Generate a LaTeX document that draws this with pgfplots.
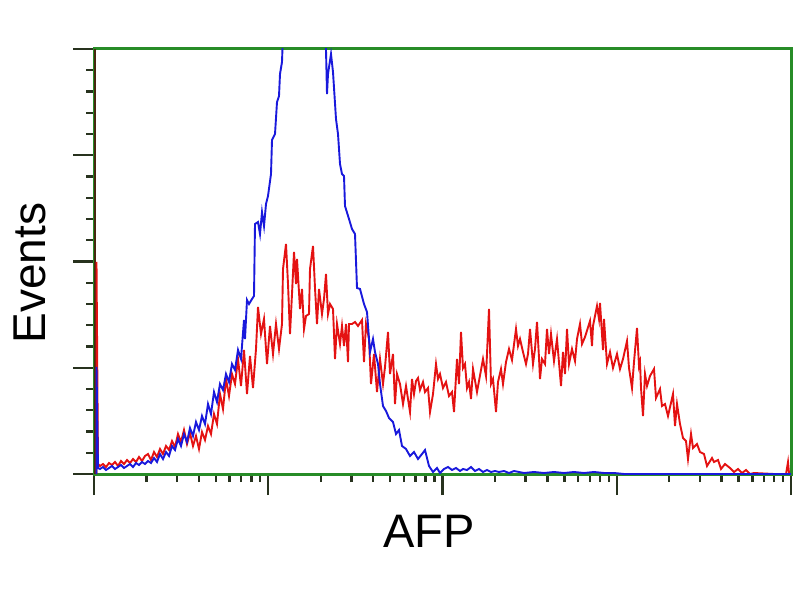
\documentclass[border=0pt]{standalone}
\usepackage{pgfplots}
\pgfplotsset{compat=1.18}
\usepackage{fontspec}
\setmainfont{Liberation Sans}
\definecolor{frame}{RGB}{40,140,40}
\definecolor{tickc}{RGB}{40,50,30}
\definecolor{leftax}{RGB}{70,40,15}
\definecolor{rline}{RGB}{228,18,18}
\definecolor{bline}{RGB}{25,25,220}
\begin{document}
\begin{tikzpicture}
\useasboundingbox (0,0) rectangle (800pt,600pt);
\begin{axis}[
  at={(94pt,126pt)}, anchor=south west,
  scale only axis, width=697pt, height=425pt,
  xmin=0, xmax=697, ymin=0, ymax=425,
  axis line style={draw=frame, line width=3pt},
  xtick={0,174.25,348.5,522.75,697},
  minor xtick={52.45,83.13,104.91,121.80,135.59,147.26,157.36,166.28,
    226.70,257.38,279.16,296.05,309.84,321.51,331.61,340.53,
    400.95,431.63,453.41,470.30,484.09,495.76,505.86,514.78,
    575.20,605.88,627.66,644.55,658.34,670.01,680.11,689.03},
  ytick={0,106.25,212.5,318.75,425},
  minor y tick num=4,
  xticklabels={}, yticklabels={},
  xtick pos=bottom, ytick pos=left,
  tick align=outside,
  major tick length=21pt, minor tick length=8pt,
  every tick/.style={draw=tickc, line width=2.4pt},
  every minor tick/.style={draw=tickc, line width=2.4pt},
]
\draw[leftax, line width=3pt] (axis cs:0,0) -- (axis cs:0,425);
\addplot[rline, line width=1.9pt] coordinates {
(2.5,0)(2.5,212)(4,10)
(6,8)(9,10)(12,7)(15,11)(18,9)(21,12)(24,8)(27,13)(30,10)(33,14)(36,11)(39,15)(42,12)(45,17)(48,13)(51,18)
(54,20)(57,14)(60,22)(63,17)(66,25)(69,20)(72,28)(75,24)(78,33)(81,27)(84,40)(87,32)(90,44)
(93,30)(96,41)(99,28)(102,38)(105,25)(108,42)(111,34)
(114,48)(117,40)(120,60)(123,50)(126,80)(129,65)(132,95)(135,78)(138,100)
(141,90)(144,115)(147,88)(150,124)(153,80)
(156,118)(159,86)(162,125)(164,167)(167,140)(170,155)(173,110)(176,148)
(179,120)(182,150)(185,125)(188,150)(189,205)(192,230)(194,190)(196,140)(198,180)
(200,222)(202,190)(203,215)(206,165)(208,185)(210,145)(212,158)(215,160)(216,205)
(219,228)(221,186)(223,150)(225,185)(228,160)(230,175)(232,200)(234,160)(236,170)
(239,165)(241,115)(243,150)(246,130)(248,148)(250,128)(252,150)(254,112)(255,150)
(258,150)(261,152)(264,148)(268,154)(270,112)(272,150)
(275,135)(277,90)(280,120)(283,82)(286,115)(289,90)(291,107)(294,142)(296,100)
(299,120)(301,70)(303,100)(306,90)(309,70)(312,88)(316,62)(318,95)(320,80)(322,93)
(324,96)(326,84)(329,92)(331,82)(334,86)(336,62)(339,80)(342,110)(344,95)(346,100)(349,86)
(352,92)(355,78)(358,82)(360,62)(363,115)(365,90)(367,142)(369,106)(371,110)(373,86)
(375,92)(377,75)(379,105)(383,82)(385,93)(389,115)(392,98)(395,165)(397,90)(399,95)
(402,62)(404,92)(407,105)(409,90)(412,112)(415,125)(418,114)(422,145)(424,128)
(426,135)(429,122)(432,110)(434,120)(436,145)(439,110)(441,125)(443,152)(445,116)
(446,95)(448,115)(451,110)(453,145)(455,120)(457,140)(460,113)(463,135)
(467,88)(469,122)(471,100)(473,145)(475,110)(478,125)(481,113)(483,135)(486,150)(488,130)
(491,137)(496,153)(498,128)(499,148)(503,168)(505,155)(506,171)(509,124)(510,155)
(513,110)(516,122)(519,106)(523,120)(526,105)(529,115)(533,133)(535,106)(538,86)(540,112)
(543,146)(545,108)(546,112)(547,86)(549,58)(551,100)(553,88)(556,98)(560,105)(562,76)
(566,85)(568,68)(571,70)(574,58)(579,80)(581,48)(583,70)(586,50)(589,36)(592,33)(594,15)
(597,40)(599,26)(603,30)(606,22)(610,20)(613,8)(618,16)(620,12)(624,14)(627,5)(631,10)
(636,6)(640,2)(644,5)(648,1)(652,4)(656,0)(660,1)(680,0)(692,0)(694,12)(695,1)
};
\addplot[bline, line width=1.9pt] coordinates {
(2.5,0)(2.5,107)(4,6)
(6,5)(9,7)(12,4)(15,6)(18,8)(21,5)(24,7)(27,9)(30,6)(33,8)(36,10)(39,7)(42,11)(45,9)(48,12)(51,10)(54,13)(57,11)
(60,16)(63,12)(66,20)(69,15)(72,22)(75,18)(78,28)(81,24)(84,35)(87,28)(90,40)(93,32)(96,46)
(99,38)(102,52)(105,44)(108,58)(111,50)(114,70)(117,60)(120,82)(123,72)(126,90)
(129,84)(132,100)(135,92)(138,110)(141,104)(144,124)(147,115)(150,154)(151,135)
(153,174)(155,170)(158,175)(160,178)(161,250)(164,252)(166,240)(168,262)(170,248)
(172,270)(174,278)(177,300)(178,334)(181,340)(183,372)(185,378)(186,400)(188,412)(189,440)
(192,520)(196,600)(200,660)(205,700)(210,720)(215,730)(220,720)(225,700)(229,660)
(231,440)(232,424)(233,380)(234,400)(237,420)(239,402)(242,355)(244,340)(246,310)(248,300)
(250,298)(251,268)(255,255)(258,245)(261,240)(263,186)(266,185)(270,170)(273,162)
(276,122)(279,135)(281,122)(284,110)(286,90)(289,68)(292,63)(295,56)
(299,52)(302,40)(305,44)(308,28)(312,25)(316,18)(320,22)(324,15)(328,20)(331,24)
(335,8)(339,2)(343,6)(346,1)(350,5)(354,7)(358,4)(362,6)(366,3)(369,5)
(373,4)(377,7)(381,3)(385,5)(389,2)(393,4)(397,2)(401,3)(405,2)(410,3)(415,1)(420,3)
(425,2)(430,1)(440,2)(450,1)(460,2)(470,1)(480,2)(490,1)(500,2)(510,1)(520,1)(530,0)(540,0)(697,0)
};
\end{axis}
\node[rotate=90, font=\fontsize{46}{50}\selectfont] at (30pt,327pt) {Events};
\node[font=\fontsize{47}{52}\selectfont] at (429pt,69pt) {AFP};
\end{tikzpicture}
\end{document}
